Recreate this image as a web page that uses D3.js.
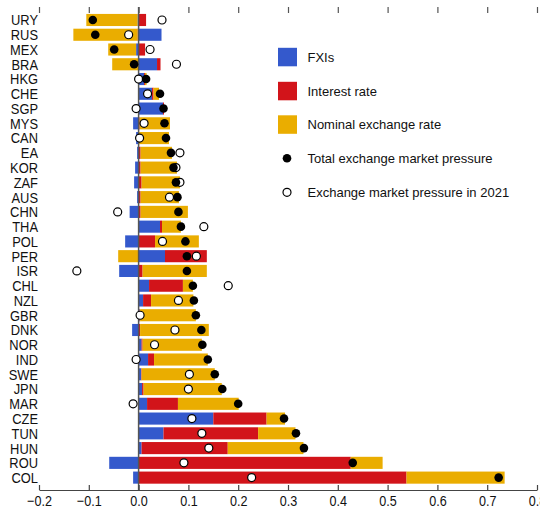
<!DOCTYPE html>
<html>
<head>
<meta charset="utf-8">
<script src="https://cdn.jsdelivr.net/npm/d3@7"></script>
<style>
  html, body { margin: 0; padding: 0; background: #fff; }
  svg { display: block; }
  .lab { font-family: "Liberation Sans", Arial, sans-serif; font-size: 15px; fill: #111; }
  .leg { font-family: "Liberation Sans", Arial, sans-serif; font-size: 13px; fill: #111; }
</style>
</head>
<body>
<div id="chart"></div>
<script>
const countries = ["URY","RUS","MEX","BRA","HKG","CHE","SGP","MYS","CAN","EA","KOR","ZAF","AUS","CHN","THA","POL","PER","ISR","CHL","NZL","GBR","DNK","NOR","IND","SWE","JPN","MAR","CZE","TUN","HUN","ROU","COL"];

const fxi      = [-0.002, 0.046,-0.005, 0.037, 0.011, 0.027, 0.049,-0.011,-0.005,-0.003,-0.007,-0.009,-0.003,-0.018, 0.043,-0.027, 0.053,-0.039, 0.021, 0.009, 0.002,-0.013, 0.006, 0.019, 0.005, 0.007, 0.017, 0.150, 0.050, 0.006,-0.059,-0.011];
const interest = [ 0.015,-0.002, 0.013, 0.007, 0.002, 0.003, 0.002, 0.002, 0.001, 0.004, 0.004, 0.006, 0.004, 0.004, 0.004, 0.033, 0.084, 0.008, 0.068, 0.016, 0.001, 0.003, 0.002, 0.012, 0.001, 0.003, 0.062, 0.107, 0.190, 0.173, 0.426, 0.538];
const nominal  = [-0.103,-0.129,-0.056,-0.053, 0.003, 0.011, 0.000, 0.061, 0.060, 0.063, 0.073, 0.077, 0.077, 0.095, 0.038, 0.088,-0.041, 0.129, 0.020, 0.085, 0.112, 0.138, 0.119, 0.108, 0.147, 0.157, 0.122, 0.037, 0.075, 0.152, 0.064, 0.197];
const total    = [-0.092,-0.087,-0.049,-0.009, 0.015, 0.043, 0.050, 0.052, 0.055, 0.065, 0.070, 0.075, 0.078, 0.080, 0.085, 0.094, 0.097, 0.097, 0.109, 0.111, 0.115, 0.126, 0.128, 0.139, 0.153, 0.168, 0.200, 0.292, 0.316, 0.332, 0.430, 0.723];
const emp2021  = [ 0.047,-0.020, 0.023, 0.076, 0.000, 0.018,-0.005, 0.011, 0.002, 0.083, 0.075, 0.083, 0.062,-0.042, 0.131, 0.048, 0.116,-0.124, 0.180, 0.080, 0.003, 0.073, 0.032,-0.005, 0.102, 0.100,-0.011, 0.107, 0.127, 0.141, 0.091, 0.227];

const xTicks = [-0.2,-0.1,0.0,0.1,0.2,0.3,0.4,0.5,0.6,0.7,0.8];
const seriesKeys = ["fxi","interest","nominal"];
const seriesLabels = ["FXIs","Interest rate","Nominal exchange rate"];
const dotLabels = ["Total exchange market pressure","Exchange market pressure in 2021"];
const colors = {fxi: "#3459CC", interest: "#D2141A", nominal: "#EAAD00"};

const W = 540, H = 511;
const svg = d3.select("#chart").append("svg").attr("width", W).attr("height", H);

const x = d3.scaleLinear().domain([-0.2, 0.8]).range([39, 537]);
const y = d3.scaleBand().domain(countries).range([12.6, 485]).paddingInner(0.18).paddingOuter(0.09);

const rows = countries.map((c, i) => ({country: c, fxi: fxi[i], interest: interest[i], nominal: nominal[i], total: total[i], emp2021: emp2021[i]}));
const stacked = d3.stack().keys(seriesKeys).offset(d3.stackOffsetDiverging)(rows);

// bars
svg.append("g").selectAll("g").data(stacked).join("g")
  .attr("fill", d => colors[d.key])
  .selectAll("rect").data(d => d).join("rect")
  .attr("x", d => x(Math.min(d[0], d[1])))
  .attr("width", d => Math.abs(x(d[1]) - x(d[0])))
  .attr("y", d => y(d.data.country))
  .attr("height", y.bandwidth());

// zero line
svg.append("line")
  .attr("x1", x(0)).attr("x2", x(0))
  .attr("y1", 7).attr("y2", 490)
  .attr("stroke", "#555").attr("stroke-width", 1.5);

// bottom axis
const axB = svg.append("g").attr("transform", "translate(0,490)")
  .call(d3.axisBottom(x).tickValues(xTicks).tickFormat(d3.format(".1f")).tickSizeInner(-5).tickSizeOuter(0));
axB.attr("font-family", null).attr("font-size", null);
axB.select(".domain").attr("stroke", "#444").attr("stroke-width", 1.2);
axB.selectAll(".tick line").attr("stroke", "#444").attr("stroke-width", 1.2);
axB.selectAll(".tick text")
  .attr("class", "lab")
  .attr("fill", "#111")
  .attr("y", 0)
  .attr("dy", "0.71em")
  .attr("transform", "translate(0,5.5) scale(0.84,1)");

// top ticks (no domain)
const axT = svg.append("g").attr("transform", "translate(0,7)")
  .call(d3.axisTop(x).tickValues(xTicks).tickSizeInner(-6).tickSizeOuter(0).tickFormat(""));
axT.select(".domain").remove();
axT.selectAll(".tick line").attr("stroke", "#555").attr("stroke-width", 1.2);

// y labels (narrowed)
svg.append("g").selectAll("text").data(countries).join("text")
  .attr("class", "lab")
  .attr("text-anchor", "end")
  .attr("dy", "0.36em")
  .attr("transform", d => `translate(38,${y(d) + y.bandwidth() / 2}) scale(0.86,1)`)
  .text(d => d);

// 2021 circles
svg.append("g").selectAll("circle").data(rows).join("circle")
  .attr("cx", d => x(d.emp2021))
  .attr("cy", d => y(d.country) + y.bandwidth() / 2)
  .attr("r", 4)
  .attr("fill", "#fff").attr("stroke", "#000").attr("stroke-width", 1.2);

// total dots
svg.append("g").selectAll("circle").data(rows).join("circle")
  .attr("cx", d => x(d.total))
  .attr("cy", d => y(d.country) + y.bandwidth() / 2)
  .attr("r", 4.3)
  .attr("fill", "#000");

// legend
const leg = svg.append("g");
const legY = [57, 91, 124.5, 158.3, 192.3];
seriesKeys.forEach((k, i) => {
  leg.append("rect").attr("x", 278).attr("y", legY[i] - 9.2).attr("width", 19).attr("height", 18.5).attr("fill", colors[k]);
  leg.append("text").attr("class", "leg").attr("x", 307.5).attr("y", legY[i]).attr("dy", "0.36em").text(seriesLabels[i]);
});
leg.append("circle").attr("cx", 287).attr("cy", legY[3]).attr("r", 4.3).attr("fill", "#000");
leg.append("text").attr("class", "leg").attr("x", 307.5).attr("y", legY[3]).attr("dy", "0.36em").text(dotLabels[0]);
leg.append("circle").attr("cx", 287).attr("cy", legY[4]).attr("r", 4).attr("fill", "#fff").attr("stroke", "#000").attr("stroke-width", 1.2);
leg.append("text").attr("class", "leg").attr("x", 307.5).attr("y", legY[4]).attr("dy", "0.36em").text(dotLabels[1]);
</script>
</body>
</html>
